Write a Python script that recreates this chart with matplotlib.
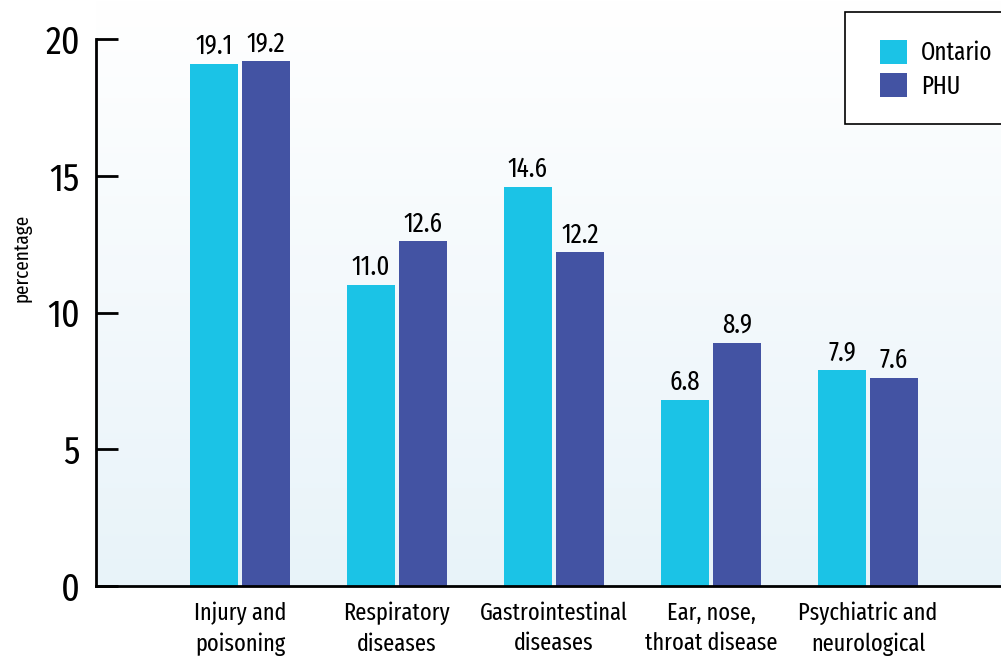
import numpy as np
import matplotlib
matplotlib.use("Agg")
import matplotlib.pyplot as plt
from matplotlib.patches import Rectangle, Patch

plt.rcParams['font.family'] = ['Fira Sans Extra Condensed', 'DejaVu Sans']
plt.rcParams['font.stretch'] = 'condensed'

categories = ["Injury and\npoisoning", "Respiratory\ndiseases", "Gastrointestinal\ndiseases",
              "Ear, nose,\nthroat disease", "Psychiatric and\nneurological"]
ontario = [19.1, 11.0, 14.6, 6.8, 7.9]
phu = [19.2, 12.6, 12.2, 8.9, 7.6]
series_names = ["Ontario", "PHU"]
yticks = [0, 5, 10, 15, 20]

c_ont = "#1BC3E6"
c_phu = "#4353A3"

W, H = 1001, 662
fig = plt.figure(figsize=(W / 100, H / 100), dpi=100)
ax = fig.add_axes([96 / W, (H - 586) / H, 1 - 96 / W, 586 / H])

# soft vertical background gradient inside the plotting area
grad = np.linspace(0, 1, 256).reshape(-1, 1)
top = np.array([1.0, 1.0, 1.0])
bot = np.array([0xE8, 0xF3, 0xF9]) / 255
img = top[None, None, :] * (1 - grad[..., None]) + bot[None, None, :] * grad[..., None]
ax.imshow(img, extent=[0, 1, 0, 1], transform=ax.transAxes, aspect='auto', zorder=0)

x = np.arange(len(categories))
bw = 0.306
off = 0.166
b1 = ax.bar(x - off, ontario, bw, color=c_ont, zorder=2)
b2 = ax.bar(x + off, phu, bw, color=c_phu, zorder=2)

for bars, vals in ((b1, ontario), (b2, phu)):
    for r, v in zip(bars, vals):
        ax.annotate(f"{v:.1f}", (r.get_x() + r.get_width() / 2, v), xytext=(0, 3),
                    textcoords="offset points", ha="center", va="bottom", fontsize=19.5)

ax.set_xlim(-0.917, 4.847)
ax.set_ylim(0, 21.43)
ax.set_yticks(yticks)
ax.set_yticklabels([str(t) for t in yticks], fontsize=28)
ax.tick_params(axis='y', direction='in', length=16, width=2, pad=11.5, color='black')
ax.set_xticks(x)
ax.set_xticklabels(categories, fontsize=17.5, linespacing=1.42)
ax.tick_params(axis='x', length=0, pad=11)

for s in ('top', 'right'):
    ax.spines[s].set_visible(False)
ax.spines['left'].set_linewidth(2)
ax.spines['left'].set_bounds(0, 20)
ax.spines['bottom'].set_linewidth(2)

fig.text(22 / W, 1 - 258 / H, "percentage", rotation=90, ha="center", va="center", fontsize=15)

# legend box
fig.patches.append(Rectangle((845 / W, 1 - 124 / H), 170 / W, 112 / H, transform=fig.transFigure,
                             facecolor="white", edgecolor="black", linewidth=1.2, zorder=5))
handles = [Patch(facecolor=c_ont), Patch(facecolor=c_phu)]
leg = fig.legend(handles, series_names, loc="upper left", bbox_to_anchor=(862 / W, 1 - 22 / H),
                 frameon=False, fontsize=18, handlelength=1.1, handleheight=1.1,
                 labelspacing=0.33, handletextpad=0.56, borderpad=0.2)
leg.set_zorder(6)

fig.savefig("out.png", dpi=100)
